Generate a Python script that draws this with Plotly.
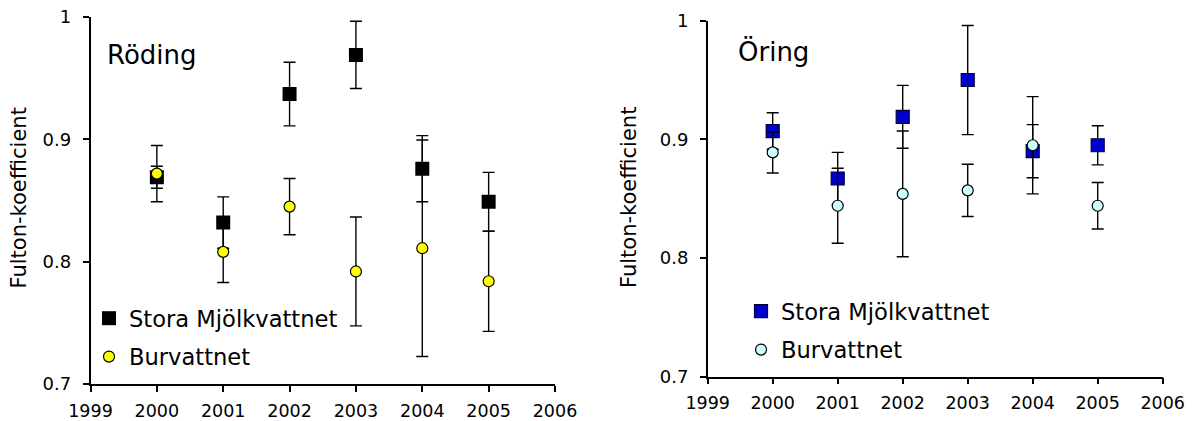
import plotly.graph_objects as go

# ---- data ----
years = [2000, 2001, 2002, 2003, 2004, 2005]

# Röding (left panel)
rod_stora = [0.869, 0.832, 0.937, 0.969, 0.876, 0.849]
rod_stora_err = [0.009, 0.021, 0.026, 0.0275, 0.027, 0.024]
rod_burv = [0.872, 0.808, 0.845, 0.792, 0.811, 0.784]
rod_burv_err = [0.023, 0.025, 0.023, 0.0445, 0.0885, 0.041]

# Öring (right panel)
ori_stora = [0.907, 0.867, 0.919, 0.950, 0.890, 0.895]
ori_stora_err = [0.0154, 0.022, 0.0265, 0.046, 0.0224, 0.0165]
ori_burv = [0.889, 0.844, 0.854, 0.857, 0.895, 0.844]
ori_burv_err = [0.0174, 0.0316, 0.053, 0.022, 0.041, 0.0196]

series_names = ["Stora Mjölkvattnet", "Burvattnet"]
panel_titles = ["Röding", "Öring"]
y_title = "Fulton-koefficient"
x_ticks = [1999, 2000, 2001, 2002, 2003, 2004, 2005, 2006]
y_ticks = [0.7, 0.8, 0.9, 1.0]
y_ticktext = ["0.7", "0.8", "0.9", "1"]

FONT = "DejaVu Sans"
W, H = 1193, 421

def px_x(p):
    return p / W

def px_y(p):
    return (H - p) / H

fig = go.Figure()

def err(arr):
    return dict(type="data", array=arr, symmetric=True, color="black",
                thickness=1.4, width=6)

# left panel
fig.add_trace(go.Scatter(
    x=years, y=rod_stora, mode="markers", name=series_names[0],
    marker=dict(symbol="square", size=14, color="black", line=dict(width=0)),
    error_y=err(rod_stora_err), xaxis="x", yaxis="y",
    legend="legend", legendgroup="a"))
fig.add_trace(go.Scatter(
    x=years, y=rod_burv, mode="markers", name=series_names[1],
    marker=dict(symbol="circle", size=11, color="#FFFF00",
                line=dict(width=1.2, color="black")),
    error_y=err(rod_burv_err), xaxis="x", yaxis="y",
    legend="legend", legendgroup="b"))

# right panel
fig.add_trace(go.Scatter(
    x=years, y=ori_stora, mode="markers", name=series_names[0],
    marker=dict(symbol="square", size=13, color="#0000CC",
                line=dict(width=1.2, color="#000040")),
    error_y=err(ori_stora_err), xaxis="x2", yaxis="y2",
    legend="legend2", legendgroup="c"))
fig.add_trace(go.Scatter(
    x=years, y=ori_burv, mode="markers", name=series_names[1],
    marker=dict(symbol="circle", size=11, color="#CCFFFF",
                line=dict(width=1.2, color="black")),
    error_y=err(ori_burv_err), xaxis="x2", yaxis="y2",
    legend="legend2", legendgroup="d"))

xax = dict(range=[1999, 2006], tickvals=x_ticks, ticktext=[str(t) for t in x_ticks],
           showgrid=False, zeroline=False, showline=True, linecolor="black",
           linewidth=1.5, ticks="outside", ticklen=6, tickwidth=1.5,
           tickcolor="black", ticklabelstandoff=4, automargin=False,
           tickfont=dict(family=FONT, size=17.5, color="black"))
yax = dict(range=[0.7, 1.0], tickvals=y_ticks, ticktext=y_ticktext,
           showgrid=False, zeroline=False, showline=True, linecolor="black",
           linewidth=1.5, ticks="outside", ticklen=6, tickwidth=1.5,
           tickcolor="black", ticklabelstandoff=8, automargin=False,
           tickfont=dict(family=FONT, size=18, color="black"))

leg = dict(font=dict(family=FONT, size=22.6, color="black"), bgcolor="rgba(0,0,0,0)",
           borderwidth=0, xanchor="left", yanchor="top", tracegroupgap=6,
           itemwidth=30)

fig.update_layout(
    template="none",
    width=W, height=H, margin=dict(l=0, r=0, t=0, b=0, autoexpand=False),
    paper_bgcolor="white", plot_bgcolor="white",
    font=dict(family=FONT, color="black"),
    xaxis=dict(xax, domain=[px_x(90.5), px_x(555)], anchor="y"),
    yaxis=dict(yax, domain=[px_y(384), px_y(17)], anchor="x"),
    xaxis2=dict(xax, domain=[px_x(707.7), px_x(1162.7)], anchor="y2"),
    yaxis2=dict(yax, domain=[px_y(376.6), px_y(20.7)], anchor="x2"),
    legend=dict(leg, x=px_x(89), y=px_y(297)),
    legend2=dict(leg, x=px_x(741), y=px_y(290)),
    showlegend=True,
    annotations=[
        dict(text=panel_titles[0], xref="paper", yref="paper", x=px_x(105), y=px_y(55),
             xanchor="left", yanchor="middle", showarrow=False,
             font=dict(family=FONT, size=26, color="black")),
        dict(text=panel_titles[1], xref="paper", yref="paper", x=px_x(736), y=px_y(52),
             xanchor="left", yanchor="middle", showarrow=False,
             font=dict(family=FONT, size=26, color="black")),
        dict(text=y_title, xref="paper", yref="paper", x=px_x(18.5), y=px_y(198),
             xanchor="center", yanchor="middle", textangle=-90, showarrow=False,
             font=dict(family=FONT, size=21, color="black")),
        dict(text=y_title, xref="paper", yref="paper", x=px_x(629), y=px_y(198),
             xanchor="center", yanchor="middle", textangle=-90, showarrow=False,
             font=dict(family=FONT, size=21, color="black")),
    ],
)

fig.write_html(
    "out.html",
    config={"displayModeBar": False},
    post_script="document.body.style.margin='0';document.body.style.overflow='hidden';",
)
